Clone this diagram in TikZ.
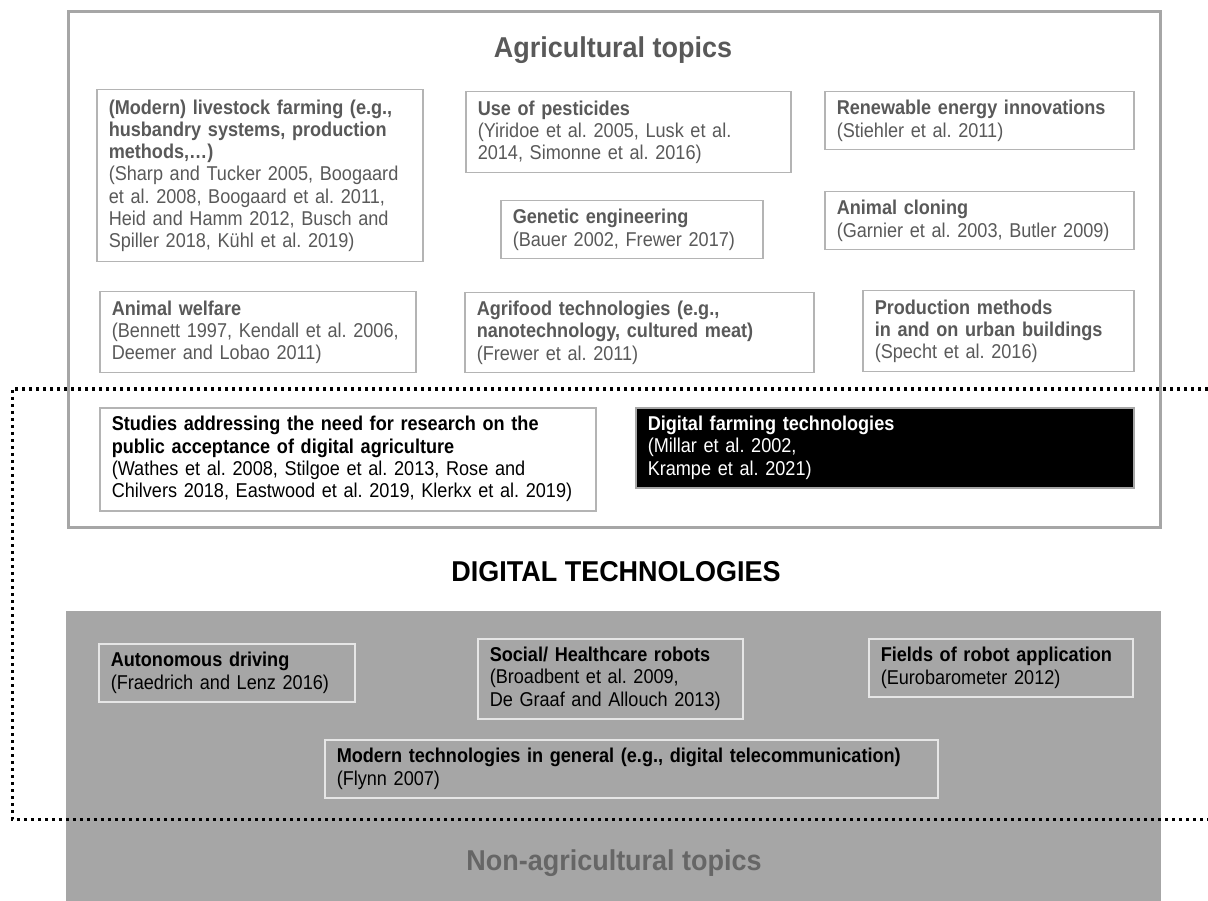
\documentclass[tikz,border=0pt]{standalone}
\usepackage{fontspec}
\setmainfont{Liberation Sans}[FakeStretch=0.905]
\newfontfamily\headfont{Liberation Sans}[FakeStretch=0.94]
\frenchspacing
\begin{document}
\begin{tikzpicture}[x=1pt,y=-1pt,
  body/.style={font=\fontsize{20}{22.3}\selectfont},
  heading/.style={font=\headfont\fontsize{28.7}{31}\selectfont\bfseries},
  topicbox/.style={body, draw=boxline, line width=1.5pt, rectangle, anchor=north west,
    inner xsep=12pt, inner ysep=0pt, align=left, text=agritext},
  agribox/.style={topicbox},
  darkbox/.style={topicbox, fill=black, draw=outerline, text=white},
  plainbox/.style={topicbox, text=black},
  techbox/.style={topicbox, draw=techline, text=black},
  frame/.style={draw=outerline, line width=3pt},
  zone/.style={black, line width=3pt, dash pattern=on 3pt off 4pt}
]
\definecolor{outerline}{HTML}{A6A6A6}
\definecolor{boxline}{HTML}{B4B4B4}
\definecolor{agritext}{HTML}{595959}
\definecolor{grayfill}{HTML}{A6A6A6}
\definecolor{techline}{HTML}{E6E6E6}
\definecolor{nonagritext}{HTML}{666666}

\useasboundingbox (0,0) rectangle (1208,901);

% agricultural frame and non-agricultural area
\path[frame] (68,12) rectangle (1160,527);
\fill[grayfill] (66,611) rectangle (1161,901);

% headings
\node[heading, text=agritext] (agrititle) at (613,50) {Agricultural topics};
\node[heading, text=black] (digititle) at (616,572) {DIGITAL TECHNOLOGIES};
\node[heading, text=nonagritext] (nonagrititle) at (614,863) {Non-agricultural topics};

% agricultural topics
\node[agribox, text width=302pt, minimum height=172pt] (livestock) at (96,89)
  {\textbf{(Modern) livestock farming (e.g.,}\\\textbf{husbandry systems, production}\\\textbf{methods,…)}\\(Sharp and Tucker 2005, Boogaard\\et al. 2008, Boogaard et al. 2011,\\Heid and Hamm 2012, Busch and\\Spiller 2018, Kühl et al. 2019)};
\node[agribox, text width=301pt, minimum height=81pt] (pesticides) at (465,91)
  {\textbf{Use of pesticides}\\(Yiridoe et al. 2005, Lusk et al.\\2014, Simonne et al. 2016)};
\node[agribox, text width=285pt, minimum height=58pt] (renewable) at (824,91)
  {\textbf{Renewable energy innovations}\\(Stiehler et al. 2011)};
\node[agribox, text width=238pt, minimum height=58pt] (genetic) at (500,200)
  {\textbf{Genetic engineering}\\(Bauer 2002, Frewer 2017)};
\node[agribox, text width=285pt, minimum height=58pt] (cloning) at (824,191)
  {\textbf{Animal cloning}\\(Garnier et al. 2003, Butler 2009)};
\node[agribox, text width=292pt, minimum height=81pt] (welfare) at (99,291)
  {\textbf{Animal welfare}\\(Bennett 1997, Kendall et al. 2006,\\Deemer and Lobao 2011)};
\node[agribox, text width=325pt, minimum height=80pt] (agrifood) at (464,292)
  {\textbf{Agrifood technologies (e.g.,}\\\textbf{nanotechnology, cultured meat)}\\(Frewer et al. 2011)};
\node[agribox, text width=247pt, minimum height=81pt] (urban) at (862,290)
  {\textbf{Production methods}\\\textbf{in and on urban buildings}\\(Specht et al. 2016)};

% digital agriculture
\node[plainbox, text width=472pt, minimum height=103pt] (studies) at (99,407)
  {\textbf{Studies addressing the need for research on the}\\\textbf{public acceptance of digital agriculture}\\(Wathes et al. 2008, Stilgoe et al. 2013, Rose and\\Chilvers 2018, Eastwood et al. 2019, Klerkx et al. 2019)};
\node[darkbox, text width=474pt, minimum height=80pt] (farmingtech) at (635,407)
  {\textbf{Digital farming technologies}\\(Millar et al. 2002,\\Krampe et al. 2021)};

% non-agricultural digital technologies
\node[techbox, text width=232pt, minimum height=58pt] (driving) at (98,643)
  {\textbf{Autonomous driving}\\(Fraedrich and Lenz 2016)};
\node[techbox, text width=241pt, minimum height=80pt] (robots) at (477,638)
  {\textbf{Social/ Healthcare robots}\\(Broadbent et al. 2009,\\De Graaf and Allouch 2013)};
\node[techbox, text width=240pt, minimum height=58pt] (robotfields) at (868,638)
  {\textbf{Fields of robot application}\\(Eurobarometer 2012)};
\node[techbox, text width=589pt, minimum height=58pt] (moderntech) at (324,739)
  {\textbf{Modern technologies in general (e.g., digital telecommunication)}\\(Flynn 2007)};

% dotted outline of the digital technologies zone
\draw[zone] (1208,389) -- (12,389) -- (12,819) -- (1208,819);
\end{tikzpicture}
\end{document}
